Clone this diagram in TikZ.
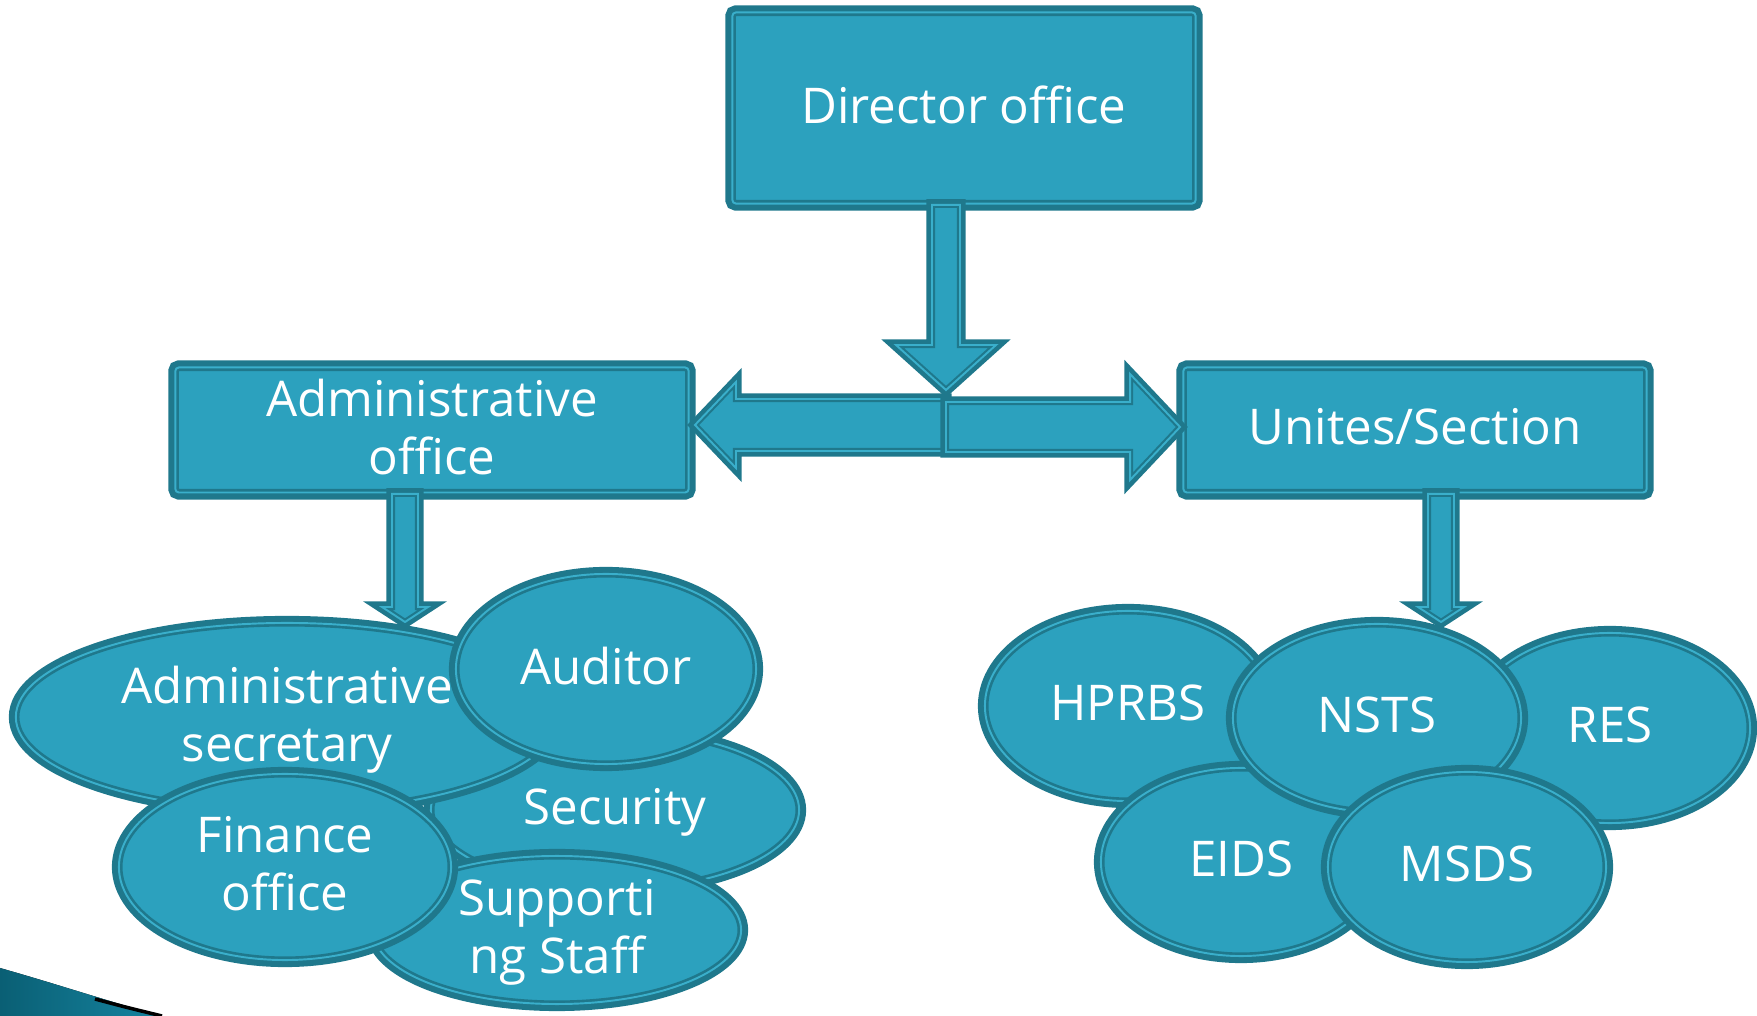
\documentclass[tikz,border=0pt]{standalone}
\usepackage{fontspec}
\setmainfont{Open Sans}
\usetikzlibrary{calc,shapes.geometric}
\definecolor{boxfill}{HTML}{2CA1BE}
\definecolor{boxedge}{HTML}{1F788C}
\definecolor{boxline}{HTML}{3AAFCB}
\definecolor{swoosha}{HTML}{0A5F74}
\definecolor{swooshb}{HTML}{1584A0}

% block arrow pointing down: from, tip, half shaft, half head, head length
\newcommand\blkdown[5]{%
  \draw[blk] ($(#1)+(-#3,0)$) -- ($(#2)+(-#3,-#5)$) -- ($(#2)+(-#4,-#5)$) -- (#2)
    -- ($(#2)+(#4,-#5)$) -- ($(#2)+(#3,-#5)$) -- ($(#1)+(#3,0)$) -- cycle;}
% block arrow sideways: from, tip, half shaft, half head, signed head length
\newcommand\blkside[5]{%
  \draw[blk] ($(#1)+(0,-#3)$) -- ($(#2)+(#5,-#3)$) -- ($(#2)+(#5,-#4)$) -- (#2)
    -- ($(#2)+(#5,#4)$) -- ($(#2)+(#5,#3)$) -- ($(#1)+(0,#3)$) -- cycle;}

\begin{document}
\begin{tikzpicture}[
    x=0.01cm, y=-0.01cm,
    lbl/.style={text=white, font=\fontsize{14}{16.5}\selectfont, align=center,
      text depth=0.2em},
    rim/.style={fill=boxfill, preaction={draw=boxedge, line width=4pt},
      draw=boxedge, line width=0.75pt, double=boxline, double distance=0.55pt,
      line join=miter},
    unit/.style={rim, lbl, rectangle, rounded corners=1pt, inner sep=0pt},
    blob/.style={rim, lbl, ellipse, inner sep=0pt},
    blk/.style={fill=boxfill, preaction={draw=boxedge, line width=3.2pt},
      draw=boxedge, line width=0.6pt, double=boxline, double distance=0.55pt,
      line join=miter}
  ]
  \useasboundingbox (0,0) rectangle (1757,1016);

  % corner swoosh
  \fill[left color=swoosha, right color=swooshb]
    (0,968) .. controls (60,985) and (110,1002) .. (162,1016) -- (0,1016) -- cycle;
  \draw[black, line width=1pt] (95,999) .. controls (125,1007) .. (162,1016);

  % offices
  \node[unit, minimum width=4.63cm, minimum height=1.91cm] (dir) at (964,108) {Director office};
  \node[unit, minimum width=5.13cm, minimum height=1.25cm] (adm) at (432,430) {Administrative\\office};
  \node[unit, minimum width=4.63cm, minimum height=1.25cm] (uni) at (1415,430) {Unites/Section};

  % administrative staff
  \node[blob, minimum width=3.68cm, minimum height=1.58cm] (secu) at (615,810) {Security};
  \node[blob, minimum width=3.68cm, minimum height=1.48cm] (sup) at (557,930) {Supporti\\ng Staff};
  \node[blob, minimum width=5.42cm, minimum height=1.88cm] (sec) at (287,717) {Administrative\\secretary};
  \node[blob, minimum width=3.00cm, minimum height=1.90cm] (aud) at (606,669) {Auditor};
  \node[blob, minimum width=3.32cm, minimum height=1.86cm] (fin) at (285,867) {Finance\\office};

  % sections
  \node[blob, minimum width=2.86cm, minimum height=1.90cm] (hprbs) at (1128,706) {HPRBS};
  \node[blob, minimum width=2.80cm, minimum height=1.90cm] (res) at (1610,728) {RES};
  \node[blob, minimum width=2.80cm, minimum height=1.88cm] (eids) at (1241,862) {EIDS};
  \node[blob, minimum width=2.88cm, minimum height=1.88cm] (nsts) at (1377,718) {NSTS};
  \node[blob, minimum width=2.78cm, minimum height=1.90cm] (msds) at (1467,867) {MSDS};

  % arrows
  \coordinate (hub) at (946,427);
  \coordinate (hubl) at ($(hub)+(0,-2)$);
  \coordinate (admtip) at ($(adm.east |- hubl)+(5,0)$);
  \coordinate (unitip) at ($(uni.west |- hub)+(-2,0)$);
  \coordinate (dirtip) at ($(hub)+(0,-37)$);
  \coordinate (dirfoot) at (dir.south -| hub);
  \coordinate (admdrop) at (405,622);
  \coordinate (admfoot) at (adm.south -| admdrop);
  \coordinate (unidrop) at (1441,622);
  \coordinate (unifoot) at (uni.south -| unidrop);

  \blkside{hubl}{admtip}{26}{43}{41}
  \blkside{hub}{unitip}{25}{53}{-50}
  \blkdown{dirfoot}{dirtip}{14}{50}{45}
  \blkdown{admfoot}{admdrop}{13}{23}{15}
  \blkdown{unifoot}{unidrop}{13}{23}{15}
\end{tikzpicture}
\end{document}
